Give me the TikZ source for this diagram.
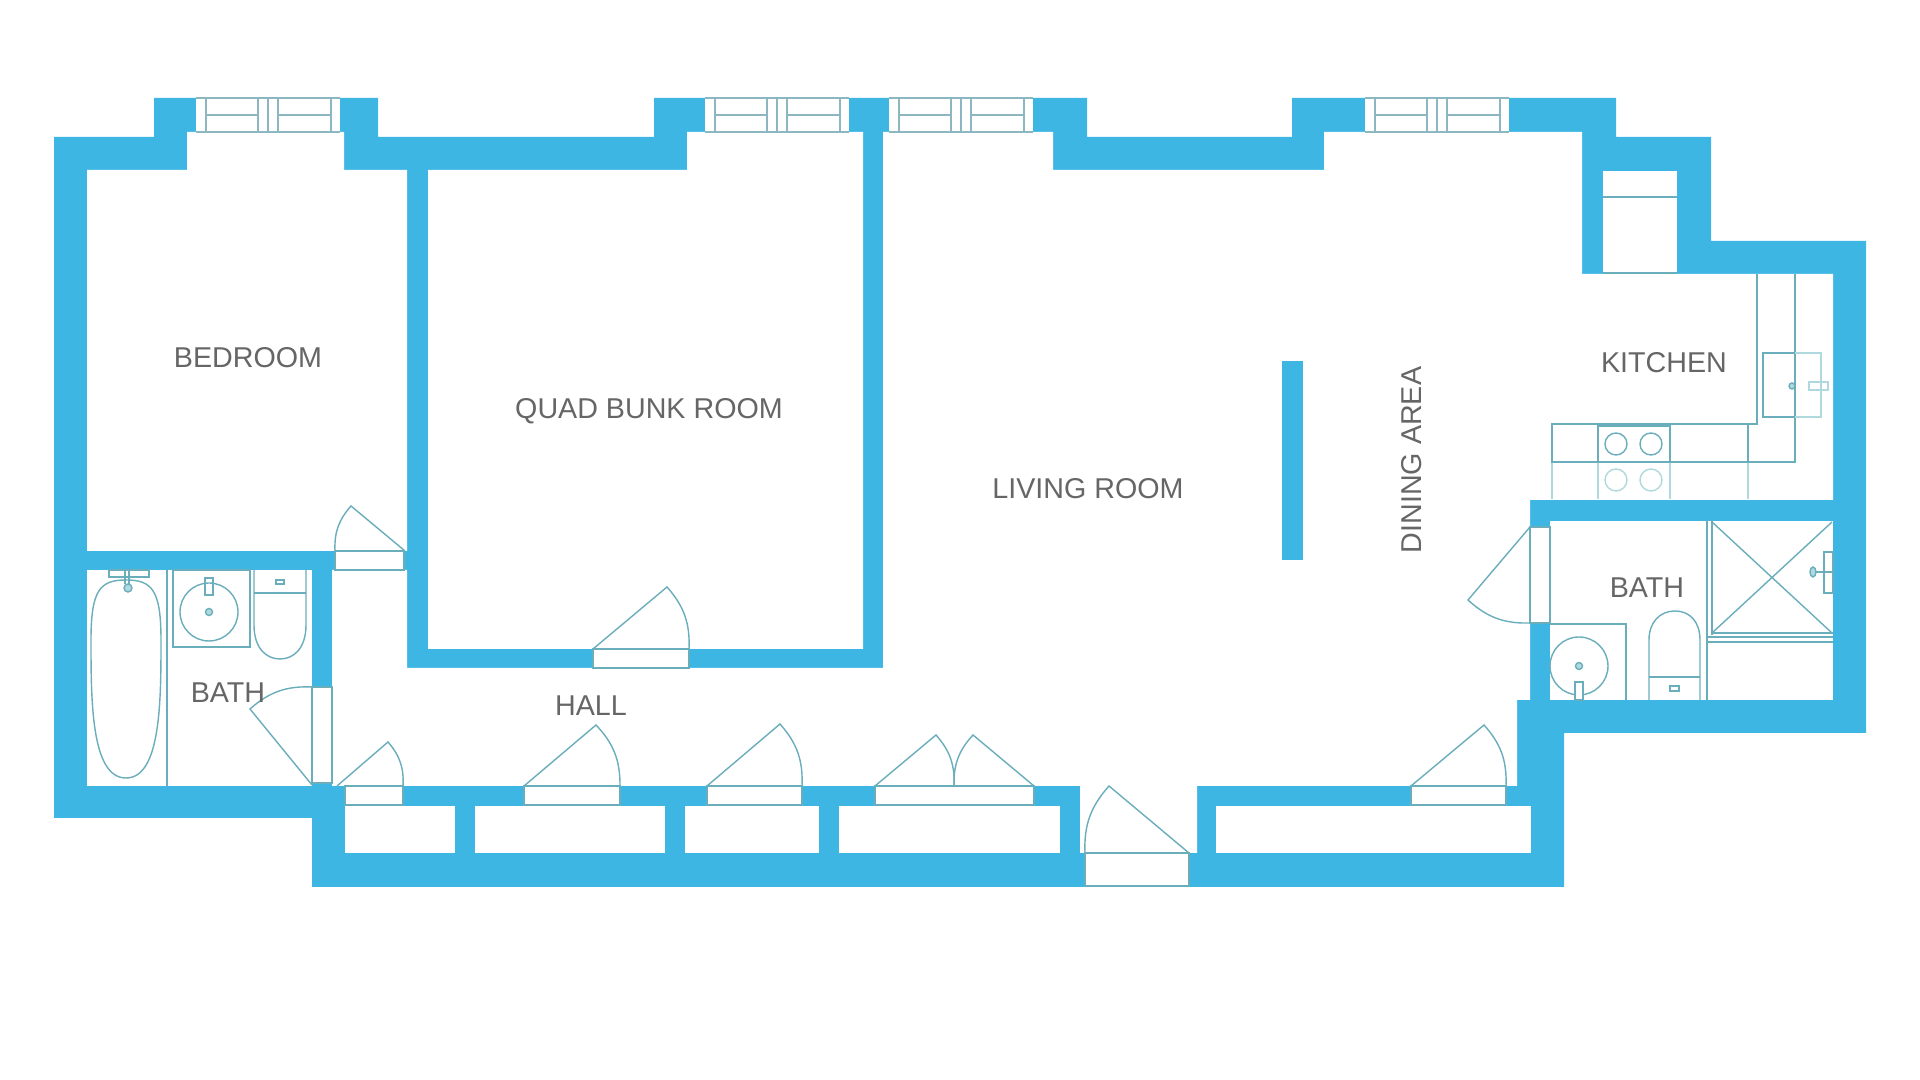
\documentclass[tikz,border=0pt]{standalone}
\usepackage{fontspec}
\setmainfont{Liberation Sans}
\definecolor{wallblue}{HTML}{3EB6E4}
\definecolor{fixline}{HTML}{6BAEBB}
\definecolor{winline}{HTML}{8DB7C0}
\definecolor{fixlight}{HTML}{B0D9DF}
\definecolor{labelgrey}{HTML}{666666}
\tikzset{
  wall/.style={fill=wallblue,draw=none},
  room/.style={fill=white,draw=none},
  fix/.style={draw=fixline,line width=0.4pt},
  fixwin/.style={draw=winline,line width=0.45pt},
  fixpale/.style={draw=fixlight,line width=0.4pt},
  opening/.style={fill=white,draw=fixline,line width=0.4pt},
  label/.style={text=labelgrey,font=\fontsize{8.15pt}{9pt}\selectfont,inner sep=0pt}
}
% window: shift x, width 144 units
\newcommand{\winunit}[1]{%
  \begin{scope}[xshift=#1*0.01cm]
    \fill[white] (0,98) rectangle (144,132);
    \draw[fixwin] (0,98) -- (144,98) (0,132) -- (144,132);
    \draw[fixwin] (10,98) -- (10,132) (62,98) -- (62,132) (72,98) -- (72,132) (82,98) -- (82,132) (135,98) -- (135,132);
    \draw[fixwin] (10,115) -- (62,115) (82,115) -- (135,115);
  \end{scope}}
\begin{document}
\begin{tikzpicture}[x=0.01cm,y=-0.01cm]
\useasboundingbox (0,0) rectangle (1920,1080);
% walls
\fill[wall] (54,137) -- (154,137) -- (154,98) -- (378,98) -- (378,137) -- (654,137) -- (654,98) -- (1087,98) -- (1087,137) -- (1292,137) -- (1292,98) -- (1616,98) -- (1616,137) -- (1711,137) -- (1711,241) -- (1866,241) -- (1866,733) -- (1564,733) -- (1564,887) -- (312,887) -- (312,818) -- (54,818) -- cycle;
% rooms
\fill[room] (87,170) -- (187,170) -- (187,132) -- (344,132) -- (344,170) -- (407,170) -- (407,551) -- (87,551) -- cycle;
\fill[room] (428,170) -- (687,170) -- (687,132) -- (863,132) -- (863,649) -- (428,649) -- cycle;
\fill[room] (883,132) -- (1053,132) -- (1053,170) -- (1324,170) -- (1324,132) -- (1582,132) -- (1582,274) -- (1833,274) -- (1833,500) -- (1530,500) -- (1530,700) -- (1517,700) -- (1517,786) -- (1197,786) -- (1197,853) -- (1189,853) -- (1189,887) -- (1085,887) -- (1085,853) -- (1080,853) -- (1080,786) -- (332,786) -- (332,570) -- (407,570) -- (407,668) -- (883,668) -- cycle;
\fill[room] (87,570) rectangle (312,786);
\fill[room] (1550,521) rectangle (1833,700);
\fill[room] (1603,171) rectangle (1677,274);
\fill[room] (345,806) rectangle (455,853);
\fill[room] (475,806) rectangle (665,853);
\fill[room] (685,806) rectangle (819,853);
\fill[room] (839,806) rectangle (1060,853);
\fill[room] (1216,806) rectangle (1531,853);
% pillar
\fill[wall] (1282,361) rectangle (1303,560);
% windows
\winunit{196}
\winunit{705}
\winunit{889}
\winunit{1365}
% door openings
\draw[opening] (335,551) rectangle (404,570);
\draw[opening] (593,649) rectangle (689,668);
\draw[opening] (312,687) rectangle (332,783);
\draw[opening] (345,786) rectangle (403,805);
\draw[opening] (524,786) rectangle (620,805);
\draw[opening] (707,786) rectangle (802,805);
\draw[opening] (875,786) rectangle (1034,805);
\draw[opening] (1411,786) rectangle (1506,805);
\draw[opening] (1085,853) rectangle (1189,886);
\draw[opening] (1530,527) rectangle (1550,623);
% door leaves
\draw[fix] (405,551) -- (351,506) to[bend right=22] (335,551);
\draw[fix] (593,649) -- (667,587) to[bend left=22] (689,649);
\draw[fix] (312,785) -- (250,709) to[bend left=22] (312,687);
\draw[fix] (337,786) -- (388,742) to[bend left=22] (403,786);
\draw[fix] (524,786) -- (596,725) to[bend left=22] (620,786);
\draw[fix] (707,786) -- (780,724) to[bend left=22] (802,786);
\draw[fix] (875,786) -- (936,735) to[bend left=22] (954,786);
\draw[fix] (1034,786) -- (973,735) to[bend right=22] (954,786);
\draw[fix] (1411,786) -- (1484,725) to[bend left=22] (1506,786);
\draw[fix] (1189,853) -- (1109,786) to[bend right=22] (1085,853);
\draw[fix] (1530,527) -- (1468,600) to[bend right=22] (1530,623);
% left bath fixtures
\draw[fix] (167,570) -- (167,786);
\draw[fix] (126,580) .. controls (100,580) and (91,590) .. (91,640) .. controls (91,700) and (91,778) .. (126,778) .. controls (161,778) and (161,700) .. (161,640) .. controls (161,590) and (152,580) .. (126,580) -- cycle;
\draw[fix] (109,570) rectangle (149,577);
\draw[fix] (125,570) -- (125,584) (129,570) -- (129,584);
\draw[fix,fill=fixlight] (128,588) ellipse (4 and 4);
\draw[fix] (173,570) rectangle (250,647);
\draw[fix] (209,612) circle (29);
\draw[fix,fill=fixlight] (209,612) circle (3.5);
\draw[fix] (205,578) rectangle (213,595);
\draw[fix] (254,570) -- (254,625) .. controls (254,648) and (266,659) .. (280,659) .. controls (294,659) and (306,648) .. (306,625) -- (306,570);
\draw[fix] (254,593) -- (306,593);
\draw[fix] (276,580) rectangle (284,584);
% right bath fixtures
\draw[fix] (1707,520) -- (1707,700);
\draw[fix] (1712,520) -- (1712,635);
\draw[fix] (1707,642) -- (1833,642);
\draw[fix] (1708,637) -- (1833,637);
\draw[fix] (1712,633) -- (1833,633);
\draw[fix] (1712,522) -- (1832,633) (1832,522) -- (1712,633);
\draw[fix] (1824,552) rectangle (1833,593);
\draw[fix] (1833,572) -- (1816,572);
\draw[fix,fill=fixlight] (1813,572) ellipse (3 and 5);
\draw[fix] (1550,624) -- (1626,624) -- (1626,700);
\draw[fix] (1579,666) circle (29);
\draw[fix,fill=fixlight] (1579,666) circle (3.5);
\draw[fix,fill=white] (1575,682) rectangle (1583,700);
\draw[fix] (1649,700) -- (1649,640) .. controls (1649,622) and (1660,611) .. (1675,611) .. controls (1690,611) and (1700,622) .. (1700,640) -- (1700,700);
\draw[fix] (1649,677) -- (1700,677);
\draw[fix] (1670,686) rectangle (1679,691);
% kitchen fixtures
\draw[fix] (1603,197) -- (1677,197);
\draw[fix] (1603,273) -- (1677,273);
\draw[fixpale] (1598,462) -- (1598,499) (1670,462) -- (1670,499) (1748,462) -- (1748,499) (1552,462) -- (1552,499);
\draw[fixpale] (1616,480) circle (11) (1651,480) circle (11);
\draw[fix] (1757,274) -- (1757,424) -- (1552,424) -- (1552,462) -- (1795,462) -- (1795,274);
\draw[fix] (1598,426) rectangle (1670,462);
\draw[fix] (1748,424) -- (1748,462);
\draw[fix] (1616,444) circle (11) (1651,444) circle (11);
\draw[fix] (1795,353) -- (1763,353) -- (1763,417) -- (1795,417);
\draw[fixpale] (1795,353) -- (1821,353) -- (1821,417) -- (1795,417);
\draw[fixpale] (1809,382) rectangle (1828,390);
\draw[fix,fill=fixlight] (1792,386) circle (3);
% labels
\node[label] (bedroom) at (248,358) {BEDROOM};
\node[label] (quad) at (649,411) {QUAD BUNK ROOM};
\node[label] (living) at (1088,489) {LIVING ROOM};
\node[label,rotate=90] (dining) at (1412,460) {DINING AREA};
\node[label] (kitchen) at (1664,363) {KITCHEN};
\node[label] (bathright) at (1647,588) {BATH};
\node[label] (bathleft) at (228,693) {BATH};
\node[label] (hall) at (591,706) {HALL};
\end{tikzpicture}
\end{document}
